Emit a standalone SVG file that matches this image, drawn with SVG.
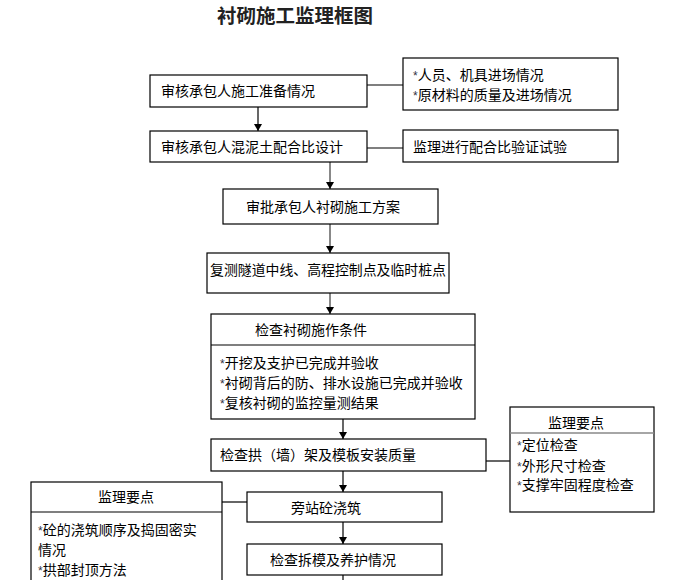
<svg xmlns="http://www.w3.org/2000/svg" width="677" height="580" viewBox="0 0 677 580">
<defs>
<style>
text{font-family:"Noto Sans CJK SC","Noto Sans",sans-serif;font-size:14px;fill:#000}
.title{font-size:19px;font-weight:bold;fill:#222}
.box{fill:#fff;stroke:#000;stroke-width:1.2}
.line{stroke:#000;stroke-width:1.2;fill:none}
.gray{stroke:#888;stroke-width:2;fill:none}
.ast{font-family:"Liberation Sans",sans-serif;font-size:12px;fill:#334}
</style>
<marker id="arr" markerWidth="8" markerHeight="8" refX="7" refY="4" orient="auto" markerUnits="userSpaceOnUse" viewBox="0 0 8 8">
<path d="M0,0 L7,4 L0,8 Z" fill="#000"/>
</marker>
</defs>
<rect width="677" height="580" fill="#fff"/>
<text class="title" x="295" y="23" text-anchor="middle" textLength="156" lengthAdjust="spacingAndGlyphs">衬砌施工监理框图</text>

<g id="connectors">
<line class="line" x1="258" y1="107" x2="258" y2="131" marker-end="url(#arr)"/>
<line class="gray" x1="330" y1="162" x2="330" y2="189" marker-end="url(#arr)"/>
<line class="gray" x1="330" y1="224" x2="330" y2="253" marker-end="url(#arr)"/>
<line class="gray" x1="330" y1="293" x2="330" y2="314" marker-end="url(#arr)"/>
<line class="line" x1="343" y1="419" x2="343" y2="439" marker-end="url(#arr)"/>
<line class="line" x1="343" y1="471" x2="343" y2="492" marker-end="url(#arr)"/>
<line class="line" x1="343" y1="522" x2="343" y2="544" marker-end="url(#arr)"/>
<line class="line" x1="343" y1="575" x2="343" y2="580"/>
<line class="line" x1="367" y1="85" x2="403" y2="85"/>
<line class="line" x1="367" y1="148" x2="403" y2="148"/>
<polyline class="line" points="486,461 510,461"/>
<line class="line" x1="222" y1="502" x2="247" y2="502"/>
</g>

<g id="n1"><rect class="box" x="150" y="75" width="217" height="32"/><text x="161" y="96">审核承包人施工准备情况</text></g>
<g id="n1r"><rect class="box" x="403" y="58" width="215" height="52"/>
<text x="413" y="80"><tspan class="ast">*</tspan>人员、机具进场情况</text>
<text x="413" y="100"><tspan class="ast">*</tspan>原材料的质量及进场情况</text></g>
<g id="n2"><rect class="box" x="150" y="131" width="217" height="31"/><text x="161" y="152">审核承包人混泥土配合比设计</text></g>
<g id="n2r"><rect class="box" x="403" y="130" width="215" height="32"/><text x="413" y="152">监理进行配合比验证试验</text></g>
<g id="n3"><rect class="box" x="223" y="189" width="215" height="35"/><text x="246" y="212">审批承包人衬砌施工方案</text></g>
<g id="n4"><rect class="box" x="207" y="253" width="242" height="40"/><text x="328" y="275" text-anchor="middle" textLength="236" lengthAdjust="spacingAndGlyphs">复测隧道中线、高程控制点及临时桩点</text></g>
<g id="n5"><rect class="box" x="211" y="314" width="264" height="105"/>
<line class="line" x1="211" y1="345" x2="475" y2="345"/>
<text x="255" y="335">检查衬砌施作条件</text>
<text x="220" y="368"><tspan class="ast">*</tspan>开挖及支护已完成并验收</text>
<text x="220" y="388"><tspan class="ast">*</tspan>衬砌背后的防、排水设施已完成并验收</text>
<text x="220" y="408"><tspan class="ast">*</tspan>复核衬砌的监控量测结果</text></g>
<g id="n6"><rect class="box" x="211" y="439" width="275" height="32"/><text x="220" y="460">检查拱（墙）架及模板安装质量</text></g>
<g id="n6r"><rect class="box" x="510" y="407" width="144" height="105"/>
<line class="gray" x1="510" y1="433" x2="654" y2="433" style="stroke-width:1.5"/>
<text x="576" y="428" text-anchor="middle">监理要点</text>
<text x="517" y="450"><tspan class="ast">*</tspan>定位检查</text>
<text x="517" y="471"><tspan class="ast">*</tspan>外形尺寸检查</text>
<text x="517" y="490"><tspan class="ast">*</tspan>支撑牢固程度检查</text></g>
<g id="n7"><rect class="box" x="247" y="492" width="195" height="30"/><text x="291" y="513">旁站砼浇筑</text></g>
<g id="n7l"><rect class="box" x="31" y="482" width="191" height="110"/>
<line class="line" x1="31" y1="512" x2="222" y2="512"/>
<text x="126" y="502" text-anchor="middle">监理要点</text>
<text x="38" y="535"><tspan class="ast">*</tspan>砼的浇筑顺序及捣固密实</text>
<text x="38" y="555">情况</text>
<text x="38" y="575"><tspan class="ast">*</tspan>拱部封顶方法</text></g>
<g id="n8"><rect class="box" x="247" y="544" width="195" height="31"/><text x="270" y="565">检查拆模及养护情况</text></g>
</svg>
